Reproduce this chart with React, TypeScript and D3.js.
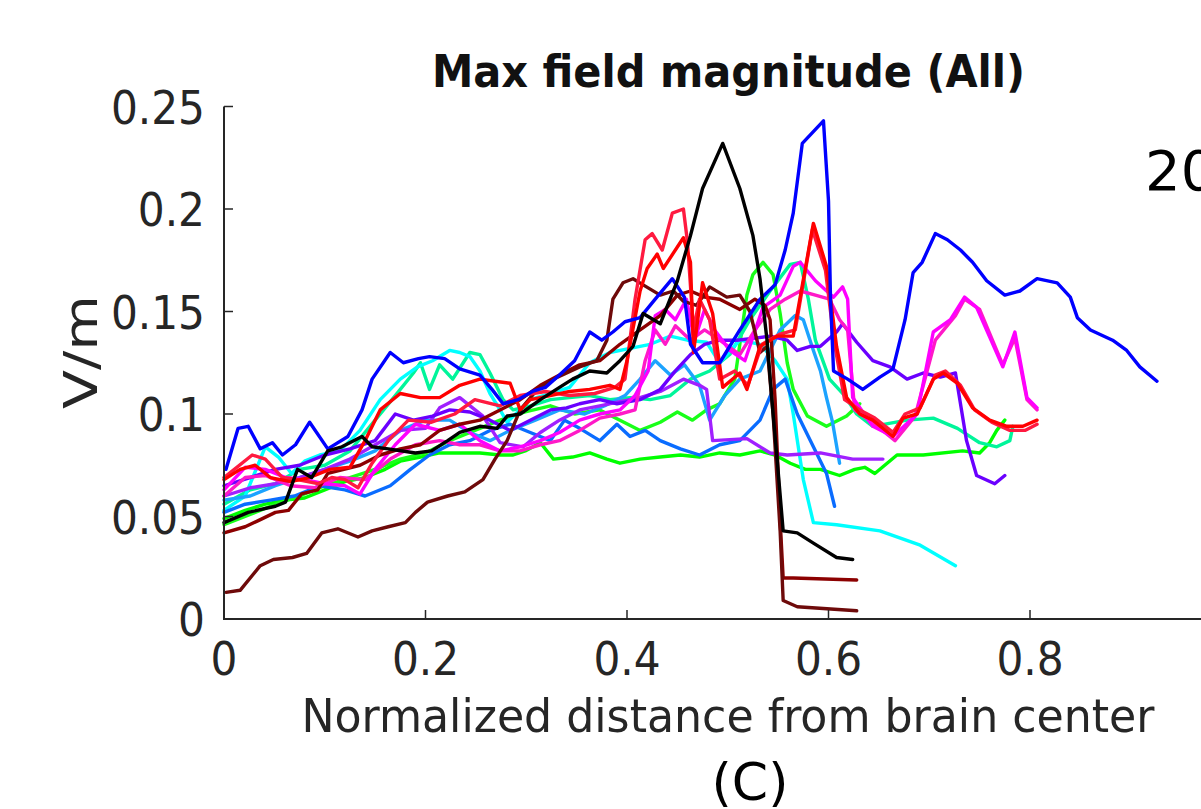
import React from "react";
import * as d3 from "d3";

type Pt = [number, number];

const titleText = "Max field magnitude (All)";
const xLabelText = "Normalized distance from brain center";
const yLabelText = "V/m";
const panelLabel = "(C)";
const neighbourText = "20";
const xTicks = [0, 0.2, 0.4, 0.6, 0.8];
const yTicks = [0, 0.05, 0.1, 0.15, 0.2, 0.25];
const yTickLabels = ["0", "0.05", "0.1", "0.15", "0.2", "0.25"];
const xTickLabels = ["0", "0.2", "0.4", "0.6", "0.8"];

const greenMain: Pt[] = [
  [0, 0.049], [0.021, 0.053], [0.041, 0.056], [0.061, 0.058], [0.08, 0.059], [0.1, 0.063],
  [0.12, 0.067], [0.14, 0.069], [0.16, 0.073], [0.175, 0.077], [0.195, 0.079], [0.214, 0.081],
  [0.234, 0.081], [0.254, 0.081], [0.274, 0.08], [0.287, 0.08], [0.299, 0.082], [0.314, 0.086],
  [0.327, 0.078], [0.346, 0.079], [0.363, 0.081], [0.38, 0.078], [0.393, 0.076], [0.413, 0.078],
  [0.433, 0.079], [0.453, 0.08], [0.472, 0.079], [0.492, 0.081], [0.512, 0.08], [0.532, 0.082],
  [0.547, 0.08], [0.562, 0.076], [0.577, 0.073], [0.592, 0.073], [0.611, 0.07], [0.626, 0.073],
  [0.636, 0.074], [0.646, 0.071], [0.668, 0.08], [0.694, 0.08], [0.733, 0.082], [0.75, 0.081],
  [0.76, 0.086], [0.767, 0.092], [0.775, 0.097],
];

const greenPeak: Pt[] = [
  [0, 0.046], [0.026, 0.051], [0.051, 0.056], [0.075, 0.06], [0.1, 0.065], [0.125, 0.069],
  [0.15, 0.073], [0.175, 0.078], [0.2, 0.081], [0.224, 0.087], [0.249, 0.092], [0.274, 0.097],
  [0.299, 0.101], [0.324, 0.104], [0.348, 0.1], [0.373, 0.102], [0.393, 0.097], [0.413, 0.092],
  [0.433, 0.096], [0.45, 0.101], [0.465, 0.097], [0.479, 0.102], [0.492, 0.105], [0.507, 0.117],
  [0.519, 0.158], [0.525, 0.168], [0.535, 0.174], [0.545, 0.168], [0.552, 0.149], [0.559, 0.125],
  [0.565, 0.112], [0.579, 0.099], [0.598, 0.094], [0.618, 0.099], [0.631, 0.105],
];

const springGreen: Pt[] = [
  [0, 0.056], [0.026, 0.063], [0.051, 0.066], [0.075, 0.073], [0.1, 0.075], [0.125, 0.082],
  [0.15, 0.097], [0.17, 0.109], [0.188, 0.12], [0.195, 0.125], [0.204, 0.112], [0.214, 0.124],
  [0.227, 0.117], [0.244, 0.13], [0.254, 0.129], [0.264, 0.12], [0.277, 0.107], [0.287, 0.102],
  [0.304, 0.104], [0.324, 0.107], [0.343, 0.108], [0.363, 0.109], [0.383, 0.107], [0.403, 0.108],
  [0.423, 0.107], [0.443, 0.109], [0.463, 0.117], [0.482, 0.121], [0.502, 0.129], [0.522, 0.146],
  [0.542, 0.16], [0.562, 0.173], [0.572, 0.174], [0.58, 0.156], [0.587, 0.136], [0.601, 0.117],
  [0.616, 0.109], [0.628, 0.1], [0.644, 0.094], [0.678, 0.097], [0.704, 0.098], [0.728, 0.093],
  [0.75, 0.086], [0.767, 0.084], [0.78, 0.087], [0.783, 0.094],
];

const cyan: Pt[] = [
  [0, 0.053], [0.021, 0.06], [0.041, 0.084], [0.054, 0.079], [0.067, 0.071], [0.08, 0.077],
  [0.095, 0.08], [0.115, 0.082], [0.135, 0.092], [0.155, 0.107], [0.175, 0.117], [0.192, 0.123],
  [0.207, 0.126], [0.224, 0.131], [0.234, 0.13], [0.244, 0.128], [0.254, 0.121], [0.264, 0.11],
  [0.274, 0.102], [0.281, 0.096], [0.304, 0.107], [0.324, 0.11], [0.343, 0.113], [0.363, 0.125],
  [0.383, 0.13], [0.403, 0.132], [0.423, 0.134], [0.443, 0.138], [0.46, 0.136], [0.479, 0.135],
  [0.492, 0.125], [0.512, 0.136], [0.532, 0.134], [0.547, 0.126], [0.559, 0.117], [0.565, 0.1],
  [0.575, 0.068], [0.585, 0.047], [0.608, 0.046], [0.651, 0.043], [0.691, 0.036], [0.726, 0.026],
];

const azure: Pt[] = [
  [0, 0.052], [0.021, 0.056], [0.046, 0.058], [0.07, 0.06], [0.095, 0.065], [0.12, 0.063],
  [0.14, 0.06], [0.165, 0.065], [0.185, 0.073], [0.204, 0.08], [0.224, 0.085], [0.244, 0.087],
  [0.264, 0.092], [0.284, 0.095], [0.304, 0.091], [0.324, 0.087], [0.338, 0.097], [0.353, 0.093],
  [0.373, 0.087], [0.39, 0.095], [0.403, 0.089], [0.418, 0.092], [0.433, 0.087], [0.453, 0.083],
  [0.472, 0.08], [0.492, 0.085], [0.512, 0.087], [0.532, 0.097], [0.545, 0.112], [0.557, 0.117],
  [0.569, 0.1], [0.585, 0.084], [0.598, 0.071], [0.606, 0.055],
];

const skyBlue: Pt[] = [
  [0, 0.058], [0.026, 0.06], [0.051, 0.065], [0.075, 0.069], [0.1, 0.073], [0.125, 0.077],
  [0.15, 0.082], [0.175, 0.092], [0.2, 0.097], [0.224, 0.097], [0.244, 0.091], [0.264, 0.087],
  [0.284, 0.092], [0.309, 0.097], [0.333, 0.102], [0.358, 0.1], [0.378, 0.104], [0.398, 0.109],
  [0.413, 0.117], [0.428, 0.126], [0.443, 0.119], [0.457, 0.124], [0.472, 0.114], [0.482, 0.097],
  [0.497, 0.109], [0.512, 0.117], [0.532, 0.121], [0.552, 0.141], [0.567, 0.148], [0.575, 0.146],
  [0.585, 0.131], [0.592, 0.121], [0.598, 0.108], [0.604, 0.096], [0.611, 0.076],
];

const purple: Pt[] = [
  [0, 0.06], [0.026, 0.064], [0.051, 0.066], [0.075, 0.069], [0.1, 0.073], [0.125, 0.078],
  [0.15, 0.085], [0.175, 0.092], [0.2, 0.093], [0.214, 0.103], [0.234, 0.108], [0.257, 0.099],
  [0.274, 0.086], [0.297, 0.084], [0.314, 0.091], [0.333, 0.097], [0.353, 0.102], [0.373, 0.104],
  [0.393, 0.106], [0.413, 0.108], [0.433, 0.111], [0.456, 0.117], [0.472, 0.114], [0.479, 0.112],
  [0.485, 0.087], [0.519, 0.088], [0.542, 0.081], [0.559, 0.08], [0.592, 0.081], [0.624, 0.078],
  [0.654, 0.078],
];

const violet: Pt[] = [
  [0, 0.065], [0.026, 0.069], [0.051, 0.073], [0.075, 0.075], [0.1, 0.08], [0.125, 0.083],
  [0.15, 0.087], [0.17, 0.1], [0.188, 0.097], [0.207, 0.099], [0.224, 0.102], [0.244, 0.101],
  [0.264, 0.097], [0.284, 0.092], [0.304, 0.097], [0.324, 0.102], [0.34, 0.103], [0.353, 0.105],
  [0.373, 0.107], [0.39, 0.105], [0.413, 0.107], [0.433, 0.112], [0.448, 0.121], [0.463, 0.129],
  [0.477, 0.134], [0.492, 0.136], [0.509, 0.136], [0.527, 0.137], [0.542, 0.138], [0.559, 0.136],
  [0.569, 0.131], [0.582, 0.133], [0.592, 0.133], [0.608, 0.14], [0.614, 0.144], [0.628, 0.135],
  [0.644, 0.126], [0.661, 0.123], [0.678, 0.117], [0.694, 0.12], [0.711, 0.118], [0.726, 0.12],
  [0.737, 0.087], [0.747, 0.07], [0.765, 0.066], [0.775, 0.07],
];

const pink: Pt[] = [
  [0, 0.06], [0.021, 0.069], [0.041, 0.07], [0.066, 0.065], [0.09, 0.064], [0.115, 0.069],
  [0.14, 0.068], [0.165, 0.078], [0.19, 0.085], [0.214, 0.087], [0.234, 0.085], [0.254, 0.085],
  [0.274, 0.082], [0.294, 0.082], [0.314, 0.085], [0.333, 0.087], [0.353, 0.092], [0.373, 0.098],
  [0.393, 0.1], [0.408, 0.102], [0.418, 0.126], [0.428, 0.141], [0.438, 0.134], [0.448, 0.143],
  [0.463, 0.136], [0.477, 0.141], [0.492, 0.136], [0.512, 0.129], [0.527, 0.141], [0.542, 0.151],
  [0.557, 0.156], [0.572, 0.16], [0.587, 0.158], [0.601, 0.156], [0.611, 0.146], [0.619, 0.141],
  [0.626, 0.102], [0.646, 0.095], [0.666, 0.087], [0.686, 0.099], [0.706, 0.136], [0.726, 0.148],
  [0.735, 0.156], [0.75, 0.151], [0.773, 0.124], [0.785, 0.137], [0.797, 0.107], [0.807, 0.102],
];

const magenta: Pt[] = [
  [0, 0.063], [0.021, 0.074], [0.041, 0.073], [0.061, 0.069], [0.08, 0.068], [0.1, 0.066],
  [0.12, 0.065], [0.135, 0.061], [0.15, 0.073], [0.17, 0.085], [0.19, 0.095], [0.214, 0.092],
  [0.234, 0.095], [0.254, 0.087], [0.274, 0.082], [0.294, 0.084], [0.314, 0.087], [0.333, 0.091],
  [0.353, 0.097], [0.373, 0.1], [0.393, 0.102], [0.408, 0.109], [0.421, 0.121], [0.428, 0.148],
  [0.438, 0.151], [0.448, 0.146], [0.459, 0.156], [0.467, 0.136], [0.477, 0.151], [0.487, 0.141],
  [0.502, 0.131], [0.517, 0.126], [0.535, 0.152], [0.552, 0.158], [0.565, 0.172], [0.572, 0.174],
  [0.587, 0.165], [0.605, 0.157], [0.614, 0.162], [0.619, 0.156], [0.624, 0.108], [0.644, 0.094],
  [0.664, 0.089], [0.688, 0.1], [0.704, 0.14], [0.721, 0.146], [0.735, 0.157], [0.747, 0.152],
  [0.773, 0.123], [0.785, 0.14], [0.797, 0.108], [0.807, 0.103],
];

const darkRedUpper: Pt[] = [
  [0, 0.042], [0.021, 0.045], [0.034, 0.048], [0.051, 0.052], [0.064, 0.053], [0.077, 0.061],
  [0.093, 0.063], [0.103, 0.071], [0.135, 0.075], [0.155, 0.08], [0.175, 0.083], [0.195, 0.085],
  [0.214, 0.092], [0.234, 0.095], [0.254, 0.097], [0.274, 0.102], [0.294, 0.107], [0.314, 0.114],
  [0.333, 0.119], [0.353, 0.124], [0.373, 0.126], [0.393, 0.134], [0.413, 0.141], [0.433, 0.148],
  [0.45, 0.158], [0.463, 0.16], [0.477, 0.157], [0.492, 0.156], [0.512, 0.151], [0.527, 0.156],
  [0.537, 0.153], [0.542, 0.146], [0.547, 0.107], [0.552, 0.048], [0.555, 0.02], [0.565, 0.02],
  [0.628, 0.019],
];

const darkRedLower: Pt[] = [
  [0.002, 0.013], [0.016, 0.014], [0.036, 0.026], [0.049, 0.029], [0.068, 0.03], [0.082, 0.032],
  [0.097, 0.042], [0.113, 0.044], [0.133, 0.04], [0.147, 0.043], [0.163, 0.045], [0.18, 0.047],
  [0.19, 0.052], [0.202, 0.057], [0.222, 0.06], [0.239, 0.062], [0.257, 0.068], [0.269, 0.078],
  [0.281, 0.087], [0.294, 0.102], [0.311, 0.112], [0.331, 0.118], [0.353, 0.123], [0.37, 0.126],
  [0.38, 0.136], [0.386, 0.156], [0.396, 0.164], [0.406, 0.166], [0.416, 0.163], [0.433, 0.158],
  [0.446, 0.16], [0.456, 0.155], [0.469, 0.153], [0.482, 0.162], [0.499, 0.157], [0.512, 0.158],
  [0.522, 0.15], [0.532, 0.13], [0.539, 0.133], [0.545, 0.1], [0.552, 0.043], [0.555, 0.009],
  [0.569, 0.006], [0.628, 0.004],
];

const redPink: Pt[] = [
  [0, 0.069], [0.028, 0.08], [0.041, 0.078], [0.058, 0.069], [0.073, 0.068], [0.093, 0.066],
  [0.107, 0.069], [0.12, 0.068], [0.133, 0.064], [0.147, 0.076], [0.163, 0.087], [0.183, 0.097],
  [0.206, 0.096], [0.229, 0.1], [0.249, 0.107], [0.274, 0.104], [0.294, 0.109], [0.319, 0.111],
  [0.343, 0.109], [0.368, 0.11], [0.388, 0.113], [0.398, 0.117], [0.408, 0.156], [0.418, 0.185],
  [0.425, 0.188], [0.435, 0.18], [0.445, 0.198], [0.456, 0.2], [0.46, 0.184], [0.466, 0.141],
  [0.472, 0.156], [0.482, 0.146], [0.492, 0.117], [0.507, 0.121], [0.52, 0.114], [0.534, 0.134],
  [0.552, 0.139], [0.567, 0.141], [0.584, 0.19], [0.597, 0.17], [0.606, 0.134], [0.616, 0.107],
  [0.631, 0.102], [0.646, 0.098], [0.664, 0.091], [0.676, 0.1], [0.691, 0.103], [0.706, 0.119],
  [0.716, 0.121], [0.731, 0.114], [0.745, 0.102], [0.762, 0.096], [0.78, 0.092], [0.795, 0.092],
  [0.807, 0.095],
];

const red: Pt[] = [
  [0, 0.068], [0.016, 0.073], [0.031, 0.075], [0.046, 0.069], [0.066, 0.067], [0.085, 0.069],
  [0.105, 0.073], [0.125, 0.074], [0.14, 0.087], [0.155, 0.102], [0.175, 0.11], [0.195, 0.108],
  [0.214, 0.108], [0.234, 0.114], [0.254, 0.117], [0.269, 0.116], [0.284, 0.115], [0.294, 0.102],
  [0.304, 0.107], [0.324, 0.109], [0.343, 0.111], [0.363, 0.112], [0.383, 0.114], [0.393, 0.112],
  [0.4, 0.126], [0.413, 0.16], [0.42, 0.171], [0.43, 0.178], [0.436, 0.171], [0.456, 0.186],
  [0.463, 0.174], [0.466, 0.13], [0.475, 0.164], [0.485, 0.149], [0.495, 0.113], [0.512, 0.12],
  [0.519, 0.112], [0.532, 0.133], [0.549, 0.138], [0.565, 0.138], [0.585, 0.193], [0.598, 0.172],
  [0.608, 0.133], [0.618, 0.108], [0.631, 0.1], [0.644, 0.097], [0.664, 0.089], [0.674, 0.098],
  [0.688, 0.1], [0.704, 0.117], [0.714, 0.12], [0.728, 0.115], [0.743, 0.103], [0.76, 0.097],
  [0.777, 0.094], [0.793, 0.094], [0.807, 0.097],
];

const blue: Pt[] = [
  [0.002, 0.073], [0.014, 0.093], [0.024, 0.094], [0.036, 0.083], [0.048, 0.086], [0.058, 0.08],
  [0.071, 0.085], [0.085, 0.096], [0.103, 0.083], [0.123, 0.089], [0.137, 0.102], [0.147, 0.117],
  [0.165, 0.13], [0.178, 0.125], [0.193, 0.127], [0.204, 0.128], [0.219, 0.127], [0.234, 0.122],
  [0.254, 0.119], [0.266, 0.112], [0.277, 0.105], [0.292, 0.107], [0.306, 0.111], [0.319, 0.113],
  [0.333, 0.119], [0.348, 0.126], [0.363, 0.14], [0.375, 0.136], [0.386, 0.14], [0.398, 0.145],
  [0.413, 0.147], [0.428, 0.156], [0.445, 0.166], [0.457, 0.157], [0.463, 0.134], [0.475, 0.125],
  [0.492, 0.125], [0.512, 0.141], [0.532, 0.156], [0.547, 0.163], [0.557, 0.18], [0.565, 0.198],
  [0.574, 0.232], [0.595, 0.243], [0.6, 0.204], [0.602, 0.156], [0.605, 0.121], [0.619, 0.117],
  [0.634, 0.112], [0.651, 0.118], [0.664, 0.122], [0.676, 0.146], [0.684, 0.169], [0.693, 0.174],
  [0.706, 0.188], [0.718, 0.185], [0.731, 0.18], [0.743, 0.174], [0.757, 0.165], [0.775, 0.158],
  [0.79, 0.16], [0.807, 0.166], [0.827, 0.164], [0.84, 0.157], [0.847, 0.147], [0.86, 0.141],
  [0.882, 0.136], [0.896, 0.131], [0.909, 0.123], [0.926, 0.116],
];

const black: Pt[] = [
  [0, 0.047], [0.024, 0.052], [0.051, 0.055], [0.061, 0.057], [0.073, 0.073], [0.087, 0.069],
  [0.103, 0.082], [0.117, 0.084], [0.137, 0.089], [0.147, 0.084], [0.163, 0.083], [0.19, 0.081],
  [0.206, 0.082], [0.222, 0.087], [0.234, 0.091], [0.254, 0.094], [0.271, 0.093], [0.281, 0.099],
  [0.294, 0.1], [0.314, 0.107], [0.333, 0.113], [0.346, 0.117], [0.363, 0.121], [0.38, 0.12],
  [0.393, 0.126], [0.406, 0.133], [0.416, 0.149], [0.433, 0.144], [0.45, 0.165], [0.463, 0.187],
  [0.475, 0.21], [0.495, 0.232], [0.512, 0.21], [0.525, 0.187], [0.532, 0.166], [0.539, 0.136],
  [0.545, 0.1], [0.549, 0.078], [0.555, 0.043], [0.569, 0.042], [0.585, 0.037], [0.608, 0.03],
  [0.624, 0.029],
];

const seriesData: Record<string, Pt[]> = {
  greenMain, greenPeak, springGreen, cyan, azure, skyBlue, purple, violet, pink, magenta,
  darkRedUpper, darkRedLower, redPink, red, blue, black,
};

const seriesStyle = [
  { key: "greenMain", color: "#00ff00" },
  { key: "greenPeak", color: "#19ff19" },
  { key: "springGreen", color: "#00f59a" },
  { key: "cyan", color: "#00ffff" },
  { key: "azure", color: "#0a6cff" },
  { key: "skyBlue", color: "#1ca3ff" },
  { key: "purple", color: "#a020ff" },
  { key: "violet", color: "#6a00ff" },
  { key: "pink", color: "#ff19c8" },
  { key: "magenta", color: "#ff00ff" },
  { key: "darkRedUpper", color: "#8c0000" },
  { key: "darkRedLower", color: "#6e0a0a" },
  { key: "redPink", color: "#ff1a40" },
  { key: "red", color: "#ff0000" },
  { key: "blue", color: "#0000ff" },
  { key: "black", color: "#000000" },
];

const W = 1201;
const H = 809;
const axisColor = "#262626";
const font = "'DejaVu Sans Condensed', 'DejaVu Sans', sans-serif";

export default function App() {
  const x = d3.scaleLinear().domain([0, 1]).range([224, 1231.5]);
  const y = d3.scaleLinear().domain([0, 0.25]).range([619, 106.5]);
  const line = d3
    .line<Pt>()
    .x((d) => x(d[0]))
    .y((d) => y(d[1]));

  return (
    <svg
      width={W}
      height={H}
      style={{ position: "absolute", left: 0, top: 0, background: "#fff" }}
    >
      <rect x={0} y={0} width={W} height={H} fill="#ffffff" />
      <g>
        {seriesStyle.map((s) => (
          <path
            key={s.key}
            d={line(seriesData[s.key]) || ""}
            fill="none"
            stroke={s.color}
            strokeWidth={3.4}
            strokeLinejoin="round"
            strokeLinecap="round"
          />
        ))}
      </g>
      <line x1={x(0) - 1} x2={W} y1={y(0)} y2={y(0)} stroke={axisColor} strokeWidth={2} />
      <line x1={x(0)} x2={x(0)} y1={y(0)} y2={y(0.25)} stroke={axisColor} strokeWidth={2} />
      {xTicks.map((t, i) => (
        <g key={"xt" + i}>
          <line x1={x(t)} x2={x(t)} y1={y(0)} y2={y(0) - 9} stroke={axisColor} strokeWidth={1.5} />
          <text
            x={x(t)}
            y={675}
            textAnchor="middle"
            fontFamily={font}
            fontSize={47}
            fill={axisColor}
          >
            {xTickLabels[i]}
          </text>
        </g>
      ))}
      {yTicks.map((t, i) => (
        <g key={"yt" + i}>
          <line x1={x(0)} x2={x(0) + 9} y1={y(t)} y2={y(t)} stroke={axisColor} strokeWidth={1.5} />
          <text
            x={205}
            y={y(t) + 17}
            textAnchor="end"
            fontFamily={font}
            fontSize={47}
            fill={axisColor}
          >
            {yTickLabels[i]}
          </text>
        </g>
      ))}
      <text
        x={728}
        y={732}
        textAnchor="middle"
        fontFamily={font}
        fontSize={47}
        textLength={853}
        lengthAdjust="spacingAndGlyphs"
        fill={axisColor}
      >
        {xLabelText}
      </text>
      <text
        transform={`translate(97,352) rotate(-90)`}
        textAnchor="middle"
        fontFamily="'DejaVu Sans', sans-serif"
        fontSize={47}
        textLength={114}
        lengthAdjust="spacingAndGlyphs"
        fill={axisColor}
      >
        {yLabelText}
      </text>
      <text
        x={728.5}
        y={87}
        textAnchor="middle"
        fontFamily={font}
        fontWeight="bold"
        fontSize={44}
        textLength={593}
        lengthAdjust="spacingAndGlyphs"
        fill="#111"
      >
        {titleText}
      </text>
      <text x={1145} y={190} fontFamily="'DejaVu Sans', sans-serif" fontSize={56} fill="#000">
        {neighbourText}
      </text>
      <text
        x={750}
        y={800}
        textAnchor="middle"
        fontFamily="'DejaVu Sans', sans-serif"
        fontSize={52}
        fill="#000"
      >
        {panelLabel}
      </text>
    </svg>
  );
}
